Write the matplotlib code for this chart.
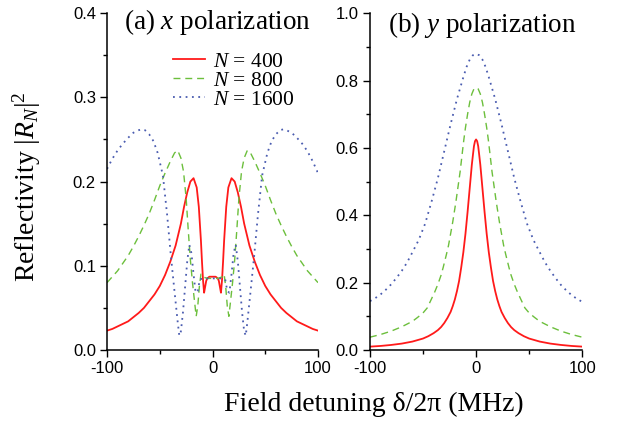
import matplotlib
matplotlib.use("Agg")
import matplotlib.pyplot as plt
from matplotlib.ticker import MultipleLocator, FormatStrFormatter

# values
# (a) x polarization
xa_400 = [-100, -95, -90, -85, -80, -75, -70, -65, -60, -55, -50, -45, -40, -35, -30, -27, -24, -21, -18, -15, -13, -11, -10, -9, -8, -7, -6, -5, -3, 0,
          3, 5, 6, 7, 8, 9, 10, 11, 13, 15, 18, 21, 24, 27, 30, 35, 40, 45, 50, 55, 60, 65, 70, 75, 80, 85, 90, 95, 100]
ra_400 = [0.023, 0.025, 0.028, 0.031, 0.034, 0.039, 0.044, 0.050, 0.058, 0.066, 0.076, 0.089, 0.105, 0.124, 0.150, 0.170, 0.187, 0.200, 0.204, 0.193, 0.170, 0.130, 0.105, 0.083, 0.068, 0.075, 0.082, 0.085, 0.087, 0.087,
          0.087, 0.085, 0.082, 0.075, 0.068, 0.083, 0.105, 0.130, 0.170, 0.193, 0.204, 0.200, 0.187, 0.170, 0.150, 0.124, 0.105, 0.089, 0.076, 0.066, 0.058, 0.050, 0.044, 0.039, 0.034, 0.031, 0.028, 0.025, 0.023]

xa_800 = [-100, -95, -90, -85, -80, -75, -70, -65, -60, -55, -50, -45, -40, -36, -33, -30, -27.5, -25, -23, -21, -19, -17, -15.5, -14, -12.5, -11, -9.5, -5, 0,
          5, 9.5, 11, 12.5, 14, 15.5, 17, 19, 21, 23, 25, 27.5, 30, 33, 36, 40, 45, 50, 55, 60, 65, 70, 75, 80, 85, 90, 95, 100]
ra_800 = [0.080, 0.087, 0.094, 0.103, 0.112, 0.123, 0.135, 0.148, 0.162, 0.178, 0.195, 0.210, 0.224, 0.234, 0.237, 0.228, 0.212, 0.180, 0.142, 0.107, 0.080, 0.057, 0.040, 0.052, 0.075, 0.090, 0.087, 0.085, 0.085,
          0.085, 0.087, 0.090, 0.075, 0.052, 0.040, 0.057, 0.080, 0.107, 0.142, 0.180, 0.212, 0.228, 0.237, 0.234, 0.224, 0.210, 0.195, 0.178, 0.162, 0.148, 0.135, 0.123, 0.112, 0.103, 0.094, 0.087, 0.080]

xa_1600 = [-100, -95, -90, -85, -80, -75, -70, -67, -64, -60, -56, -52, -47, -43, -39.5, -36, -33, -31.5, -30, -28, -26, -24, -22, -20, -18, -16, -14, -12, -8, 0,
           8, 12, 14, 16, 18, 20, 22, 24, 26, 28, 30, 31.5, 33, 36, 39.5, 43, 47, 52, 56, 60, 64, 67, 70, 75, 80, 85, 90, 95, 100]
ra_1600 = [0.215, 0.227, 0.237, 0.245, 0.252, 0.258, 0.261, 0.262, 0.261, 0.256, 0.248, 0.234, 0.207, 0.160, 0.112, 0.069, 0.033, 0.017, 0.022, 0.045, 0.075, 0.105, 0.125, 0.115, 0.090, 0.068, 0.070, 0.084, 0.085, 0.085,
           0.085, 0.084, 0.070, 0.068, 0.090, 0.115, 0.125, 0.105, 0.075, 0.045, 0.022, 0.017, 0.033, 0.069, 0.112, 0.160, 0.207, 0.234, 0.248, 0.256, 0.261, 0.262, 0.261, 0.258, 0.252, 0.245, 0.236, 0.224, 0.210]

# (b) y polarization
xb_400 = [-100, -90, -80, -70, -60, -50, -45, -40, -36, -33, -30, -27, -24, -22, -20, -18, -16, -15, -14, -12, -10, -8, -6, -4, -3, -2, -1, 0,
          1, 2, 3, 4, 6, 8, 10, 12, 14, 15, 16, 18, 20, 22, 24, 27, 30, 33, 36, 40, 45, 50, 60, 70, 80, 90, 100]
rb_400 = [0.010, 0.012, 0.015, 0.019, 0.025, 0.034, 0.041, 0.050, 0.059, 0.068, 0.080, 0.095, 0.113, 0.130, 0.150, 0.175, 0.205, 0.225, 0.245, 0.290, 0.345, 0.410, 0.480, 0.550, 0.578, 0.605, 0.620, 0.625,
          0.620, 0.605, 0.578, 0.550, 0.480, 0.410, 0.345, 0.290, 0.245, 0.225, 0.205, 0.175, 0.150, 0.130, 0.113, 0.095, 0.080, 0.068, 0.059, 0.050, 0.041, 0.034, 0.025, 0.019, 0.015, 0.012, 0.010]

xb_800 = [-100, -90, -80, -70, -60, -55, -50, -46, -43, -39, -36, -33, -31, -28, -26, -24, -22, -19, -17, -15, -13, -11.5, -10, -8, -6, -4, -2, 0,
          2, 4, 6, 8, 10, 11.5, 13, 15, 17, 19, 22, 24, 26, 28, 31, 33, 36, 39, 43, 46, 50, 55, 60, 70, 80, 90, 100]
rb_800 = [0.038, 0.046, 0.056, 0.069, 0.085, 0.097, 0.110, 0.125, 0.145, 0.172, 0.195, 0.222, 0.245, 0.283, 0.310, 0.345, 0.380, 0.440, 0.485, 0.530, 0.585, 0.625, 0.660, 0.700, 0.735, 0.760, 0.775, 0.779,
          0.775, 0.760, 0.735, 0.700, 0.660, 0.625, 0.585, 0.530, 0.485, 0.440, 0.380, 0.345, 0.310, 0.283, 0.245, 0.222, 0.195, 0.172, 0.145, 0.125, 0.110, 0.097, 0.085, 0.069, 0.056, 0.046, 0.038]

xb_1600 = [-100, -95, -90, -85, -80, -75, -70, -65, -60, -54, -48, -42, -36, -30, -24, -18, -12, -9, -6, -3, 0,
           3, 6, 9, 12, 18, 24, 30, 36, 42, 48, 54, 60, 65, 70, 75, 80, 85, 90, 95, 100]
rb_1600 = [0.145, 0.154, 0.165, 0.179, 0.195, 0.214, 0.235, 0.260, 0.290, 0.327, 0.375, 0.440, 0.510, 0.590, 0.670, 0.745, 0.810, 0.840, 0.862, 0.875, 0.879,
           0.875, 0.862, 0.840, 0.810, 0.745, 0.670, 0.590, 0.510, 0.440, 0.375, 0.327, 0.290, 0.260, 0.235, 0.213, 0.193, 0.177, 0.163, 0.152, 0.143]

labels = ["$N$ = 400", "$N$ = 800", "$N$ = 1600"]

plt.rcParams["font.family"] = ["Liberation Sans", "DejaVu Sans"]
plt.rcParams["mathtext.fontset"] = "custom"
plt.rcParams["mathtext.rm"] = "Liberation Serif"
plt.rcParams["mathtext.it"] = "Liberation Serif:italic"
serif = ["Liberation Serif", "DejaVu Serif"]

red = "#ff1a1a"
green = "#6cbf3c"
blue = "#4a5cb0"

fig = plt.figure(figsize=(6.26, 4.45), dpi=100)
ax1 = fig.add_axes([0.171, 0.2135, 0.337, 0.757])
ax2 = fig.add_axes([0.591, 0.2135, 0.339, 0.757])

# 1. left panel
ax1.plot(xa_400, ra_400, color=red, lw=1.3, label=labels[0])
ax1.plot(xa_800, ra_800, color=green, lw=1.0, ls=(0, (5, 3.5)), label=labels[1])
ax1.plot(xa_1600, ra_1600, color=blue, lw=1.3, ls=(0, (1, 2.5)), label=labels[2])
ax1.set_ylim(0, 0.4)
ax1.yaxis.set_major_locator(MultipleLocator(0.1))
ax1.yaxis.set_minor_locator(MultipleLocator(0.05))
ax1.text(0.524, 0.974, "(a) $x$ polarization", transform=ax1.transAxes,
         ha="center", va="center", fontsize=19.5, family=serif)
ax1.legend(loc="upper left", bbox_to_anchor=(0.313, 0.885), frameon=False,
           prop={"family": serif, "size": 15.5}, handlelength=1.5,
           handletextpad=0.37, labelspacing=-0.05, borderaxespad=0, borderpad=0)

# 2. right panel
ax2.plot(xb_400, rb_400, color=red, lw=1.3)
ax2.plot(xb_800, rb_800, color=green, lw=1.0, ls=(0, (5, 3.5)))
ax2.plot(xb_1600, rb_1600, color=blue, lw=1.3, ls=(0, (1, 2.5)))
ax2.set_ylim(0, 1.0)
ax2.yaxis.set_major_locator(MultipleLocator(0.2))
ax2.yaxis.set_minor_locator(MultipleLocator(0.1))
ax2.text(0.53, 0.966, "(b) $y$ polarization", transform=ax2.transAxes,
         ha="center", va="center", fontsize=19.5, family=serif)

for ax in (ax1, ax2):
    ax.set_xlim(-100, 100)
    ax.xaxis.set_major_locator(MultipleLocator(100))
    ax.xaxis.set_minor_locator(MultipleLocator(50))
    ax.spines["top"].set_visible(False)
    ax.spines["right"].set_visible(False)
    ax.spines["left"].set_linewidth(1.1)
    ax.spines["bottom"].set_linewidth(1.1)
    ax.tick_params(which="major", direction="out", length=5, width=1.0, labelsize=12, pad=3)
    ax.tick_params(which="minor", direction="out", length=3, width=1.0)
    ax.yaxis.set_major_formatter(FormatStrFormatter("%.1f"))
    ax.xaxis.set_major_formatter(FormatStrFormatter("%d"))

# 3. shared labels
fig.text(0.043, 0.58, "Reflectivity $|R_N|^2$", rotation=90, ha="center", va="center",
         fontsize=20, family=serif)
fig.text(0.597, 0.092, "Field detuning δ/2π (MHz)", ha="center", va="center",
         fontsize=20, family=serif)

fig.savefig("out.png", dpi=100)
